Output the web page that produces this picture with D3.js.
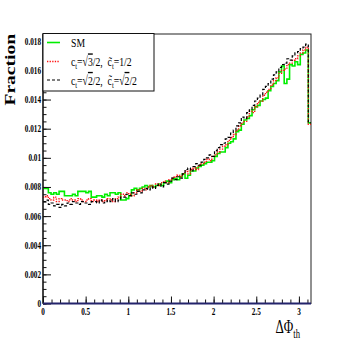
<!DOCTYPE html>
<html>
<head>
<meta charset="utf-8">
<script src="https://cdn.jsdelivr.net/npm/d3@7"></script>
<style>
  body { margin: 0; background: #fff; }
  text { font-family: "Liberation Serif", "Times New Roman", serif; }
</style>
</head>
<body>
<div id="chart"></div>
<script>
// histogram range, 100 bins over [0, pi]
var binRange = [0, Math.PI];

// SM
var smValues = [
  0.0079, 0.0079, 0.0076, 0.0075, 0.0076, 0.0075, 0.0077, 0.0077, 0.0074, 0.0074,
  0.0074, 0.0075, 0.0074, 0.0077, 0.0077, 0.0077, 0.0076, 0.0077, 0.0073, 0.0073,
  0.0074, 0.0074, 0.0073, 0.0075, 0.0074, 0.0076, 0.0076, 0.0075, 0.0076, 0.0071,
  0.0071, 0.0072, 0.0074, 0.0078, 0.0079, 0.0078, 0.0079, 0.0080, 0.0081, 0.0080,
  0.0081, 0.0080, 0.0081, 0.0082, 0.0081, 0.0083, 0.0084, 0.0083, 0.0085, 0.0086,
  0.0085, 0.0087, 0.0089, 0.0086, 0.0088, 0.0091, 0.0091, 0.0093, 0.0094, 0.0095,
  0.0096, 0.0097, 0.0097, 0.0098, 0.0101, 0.0103, 0.0104, 0.0104, 0.0107, 0.0110,
  0.0111, 0.0113, 0.0118, 0.0119, 0.0123, 0.0126, 0.0127, 0.0129, 0.0133, 0.0135,
  0.0136, 0.0139, 0.0140, 0.0141, 0.0146, 0.0149, 0.0151, 0.0153, 0.0159, 0.0163,
  0.0151, 0.0154, 0.0164, 0.0163, 0.0166, 0.0164, 0.0171, 0.0172, 0.0174, 0.0124
];

// c_t = sqrt(3)/2, c~_t = 1/2
var mixAValues = [
  0.0073, 0.0074, 0.0072, 0.0071, 0.0073, 0.0070, 0.0072, 0.0071, 0.0071, 0.0070,
  0.0072, 0.0071, 0.0070, 0.0072, 0.0071, 0.0070, 0.0071, 0.0072, 0.0070, 0.0071,
  0.0070, 0.0071, 0.0070, 0.0071, 0.0072, 0.0071, 0.0070, 0.0072, 0.0073, 0.0075,
  0.0074, 0.0076, 0.0075, 0.0074, 0.0076, 0.0078, 0.0077, 0.0079, 0.0078, 0.0080,
  0.0081, 0.0080, 0.0082, 0.0081, 0.0083, 0.0084, 0.0083, 0.0085, 0.0086, 0.0087,
  0.0088, 0.0087, 0.0089, 0.0091, 0.0089, 0.0092, 0.0093, 0.0092, 0.0095, 0.0096,
  0.0097, 0.0099, 0.0098, 0.0101, 0.0102, 0.0104, 0.0106, 0.0108, 0.0109, 0.0112,
  0.0114, 0.0116, 0.0119, 0.0122, 0.0124, 0.0125, 0.0128, 0.0132, 0.0131, 0.0135,
  0.0138, 0.0139, 0.0143, 0.0145, 0.0147, 0.0150, 0.0153, 0.0155, 0.0158, 0.0160,
  0.0161, 0.0164, 0.0165, 0.0167, 0.0168, 0.0170, 0.0172, 0.0174, 0.0176, 0.0123
];

// c_t = sqrt(2)/2, c~_t = sqrt(2)/2
var mixBValues = [
  0.0070, 0.0071, 0.0068, 0.0069, 0.0067, 0.0068, 0.0066, 0.0068, 0.0067, 0.0069,
  0.0068, 0.0070, 0.0069, 0.0068, 0.0070, 0.0069, 0.0069, 0.0068, 0.0070, 0.0070,
  0.0069, 0.0071, 0.0069, 0.0070, 0.0071, 0.0070, 0.0072, 0.0070, 0.0071, 0.0073,
  0.0073, 0.0075, 0.0074, 0.0076, 0.0075, 0.0077, 0.0076, 0.0078, 0.0079, 0.0078,
  0.0080, 0.0079, 0.0081, 0.0082, 0.0080, 0.0083, 0.0082, 0.0084, 0.0086, 0.0085,
  0.0087, 0.0086, 0.0089, 0.0092, 0.0093, 0.0091, 0.0094, 0.0096, 0.0095, 0.0097,
  0.0099, 0.0100, 0.0102, 0.0101, 0.0105, 0.0107, 0.0109, 0.0110, 0.0113, 0.0114,
  0.0117, 0.0119, 0.0122, 0.0124, 0.0128, 0.0127, 0.0131, 0.0133, 0.0136, 0.0139,
  0.0141, 0.0143, 0.0147, 0.0149, 0.0151, 0.0154, 0.0157, 0.0159, 0.0162, 0.0164,
  0.0165, 0.0168, 0.0167, 0.0170, 0.0172, 0.0173, 0.0175, 0.0176, 0.0178, 0.0124
];

var yTicks = [0, 0.002, 0.004, 0.006, 0.008, 0.01, 0.012, 0.014, 0.016, 0.018];
var yTickLabels = ["0", "0.002", "0.004", "0.006", "0.008", "0.01", "0.012", "0.014", "0.016", "0.018"];
var xTicks = [0, 0.5, 1, 1.5, 2, 2.5, 3];
var xTickLabels = ["0", "0.5", "1", "1.5", "2", "2.5", "3"];

var W = 346, H = 346;
var padL = 43, padR = 311, padT = 34, padB = 303.5;
var sx = 0.72; // ROOT picture is squashed horizontally

var svg = d3.select("#chart").append("svg")
  .attr("width", W).attr("height", H);

var x = d3.scaleLinear().domain(binRange).range([padL, padR]);
var y = d3.scaleLinear().domain([0, 0.0185]).range([padB, padT]);

// frame
svg.append("rect")
  .attr("x", padL).attr("y", padT)
  .attr("width", padR - padL).attr("height", padB - padT)
  .attr("fill", "none").attr("stroke", "#222").attr("stroke-width", 1);

// step outline of a histogram
function stepPoints(vals) {
  var n = vals.length, w = (binRange[1] - binRange[0]) / n;
  var pts = vals.map(function(v, i) { return [binRange[0] + i * w, v]; });
  pts.push([binRange[1], vals[n - 1]]);
  return pts;
}
var line = d3.line()
  .x(function(d) { return x(d[0]); })
  .y(function(d) { return y(d[1]); })
  .curve(d3.curveStepAfter);

var series = [
  { vals: smValues, color: "#00ee00", width: 1.6, dash: null },
  { vals: mixAValues, color: "#ff1010", width: 1.4, dash: "1.3,1.3" },
  { vals: mixBValues, color: "#000000", width: 1.2, dash: "3,2" }
];
series.forEach(function(s) {
  svg.append("path")
    .attr("d", line(stepPoints(s.vals)))
    .attr("fill", "none")
    .attr("stroke", s.color)
    .attr("stroke-width", s.width)
    .attr("stroke-dasharray", s.dash);
});

// axes: ticks inside the frame
function plain(g) { g.select(".domain").remove(); g.selectAll("line").attr("stroke", "#111"); }
svg.append("g").attr("transform", "translate(" + padL + ",0)")
  .call(d3.axisLeft(y).tickValues(d3.range(0, 0.01851, 0.0005)).tickSizeInner(-3.5).tickSizeOuter(0).tickFormat(""))
  .call(plain);
svg.append("g").attr("transform", "translate(" + padL + ",0)")
  .call(d3.axisLeft(y).tickValues(yTicks).tickSizeInner(-8).tickSizeOuter(0).tickFormat(""))
  .call(plain);
svg.append("g").attr("transform", "translate(0," + padB + ")")
  .call(d3.axisBottom(x).tickValues(d3.range(0, 3.15, 0.1)).tickSizeInner(-4).tickSizeOuter(0).tickFormat(""))
  .call(plain);
svg.append("g").attr("transform", "translate(0," + padB + ")")
  .call(d3.axisBottom(x).tickValues(xTicks).tickSizeInner(-7).tickSizeOuter(0).tickFormat(""))
  .call(plain);

svg.append("line")
  .attr("x1", padL).attr("x2", padL).attr("y1", padT).attr("y2", padB)
  .attr("stroke", "#111").attr("stroke-width", 1.2);
svg.append("line")
  .attr("x1", padL).attr("x2", padR).attr("y1", padB).attr("y2", padB)
  .attr("stroke", "#23236b").attr("stroke-width", 2);

function squashed(px, py, extra) {
  return svg.append("text")
    .attr("transform", "translate(" + px + "," + py + ") scale(" + sx + ",1)" + (extra || ""));
}

yTicks.forEach(function(v, i) {
  squashed(41, y(v) + 3.5)
    .attr("text-anchor", "end")
    .attr("font-size", 10).attr("font-weight", "bold")
    .text(yTickLabels[i]);
});
xTicks.forEach(function(v, i) {
  squashed(x(v), 315)
    .attr("text-anchor", "middle")
    .attr("font-size", 10).attr("font-weight", "bold")
    .text(xTickLabels[i]);
});

// axis titles
squashed(15, padT, " rotate(-90)")
  .attr("text-anchor", "end")
  .attr("font-size", 19.5).attr("font-weight", "bold")
  .text("Fraction");

var xt = squashed(300, 333).attr("text-anchor", "end").attr("font-size", 18);
xt.append("tspan").text("\u0394\u03a6");
xt.append("tspan").attr("font-size", 12).attr("dy", 5).text("th");

// legend
svg.append("rect")
  .attr("x", padL).attr("y", 33.5).attr("width", 111).attr("height", 57.5)
  .attr("fill", "#fff").attr("stroke", "#111").attr("stroke-width", 1);

var legendRows = [42.5, 61.5, 80];
series.forEach(function(s, i) {
  svg.append("line")
    .attr("x1", 47).attr("x2", 60).attr("y1", legendRows[i]).attr("y2", legendRows[i])
    .attr("stroke", s.color).attr("stroke-width", s.width)
    .attr("stroke-dasharray", s.dash);
});

function legendText(row, parts) {
  var t = squashed(71, legendRows[row] + 4.5).attr("font-size", 13.5);
  parts.forEach(function(p) {
    var ts = t.append("tspan").text(p.t);
    if (p.sub) ts.attr("font-size", 9).attr("dy", 3);
    if (p.up) ts.attr("dy", -3);
    if (p.bar) ts.style("text-decoration", "overline");
  });
  return t;
}
legendText(0, [{ t: "SM" }]);
legendText(1, [
  { t: "c" }, { t: "t", sub: true }, { t: "=\u221a", up: true }, { t: "3", bar: true },
  { t: "/2,\u00a0\u00a0c\u0303" }, { t: "t", sub: true }, { t: "=1/2", up: true }
]);
legendText(2, [
  { t: "c" }, { t: "t", sub: true }, { t: "=\u221a", up: true }, { t: "2", bar: true },
  { t: "/2,\u00a0\u00a0c\u0303" }, { t: "t", sub: true }, { t: "=\u221a", up: true },
  { t: "2", bar: true }, { t: "/2" }
]);
</script>
</body>
</html>
